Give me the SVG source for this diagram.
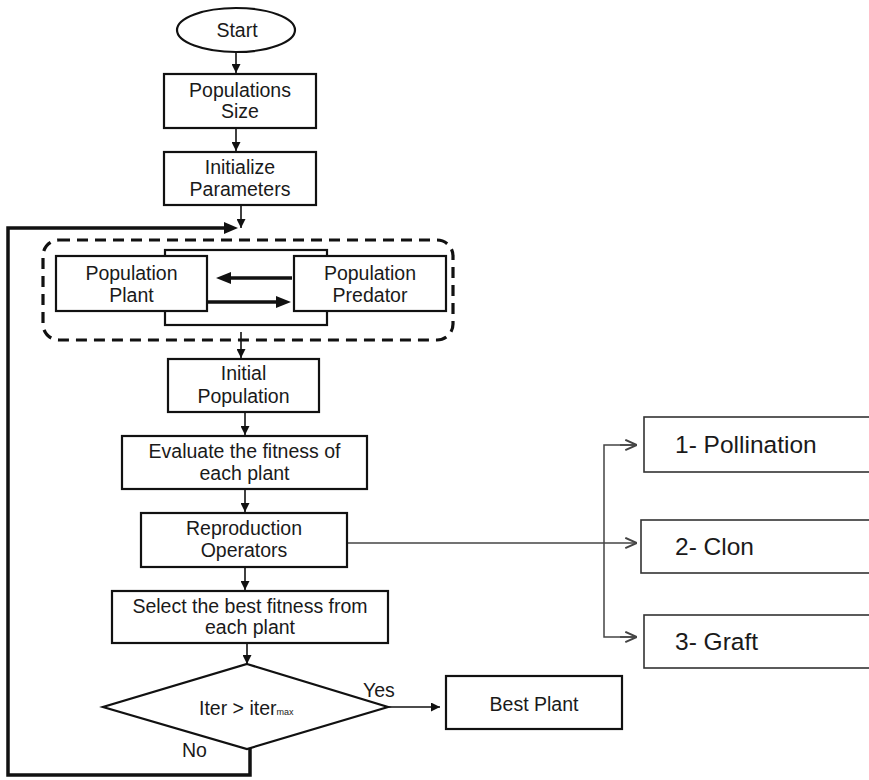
<svg xmlns="http://www.w3.org/2000/svg" width="869" height="780" viewBox="0 0 869 780">
  <defs>
    <style>
      .box { fill: #fff; stroke: #111; stroke-width: 2.2; }
      .thin { fill: #fff; stroke: #333; stroke-width: 1.6; }
      .lbl { font-family: "Liberation Sans", Arial, sans-serif; font-size: 19.5px; fill: #1a1a1a; text-anchor: middle; }
      .big { font-family: "Liberation Sans", Arial, sans-serif; font-size: 24.5px; fill: #1a1a1a; }
      .edge { fill: none; stroke: #111; stroke-width: 1.6; }
      .heavy { fill: none; stroke: #111; stroke-width: 3.5; }
      .side { fill: none; stroke: #444; stroke-width: 1.5; }
    </style>
    <marker id="tri" viewBox="0 0 10 10" refX="10" refY="5" markerWidth="9" markerHeight="9" markerUnits="userSpaceOnUse" orient="auto">
      <path d="M0,0 L10,5 L0,10 z" fill="#111"/>
    </marker>
    <marker id="open" viewBox="0 0 10 10" refX="10" refY="5" markerWidth="13" markerHeight="13" markerUnits="userSpaceOnUse" orient="auto">
      <path d="M1,1 L10,5 L1,9" fill="none" stroke="#444" stroke-width="1.5"/>
    </marker>
  </defs>

  <rect width="869" height="780" fill="#fff"/>

  <!-- connectors -->
  <g id="connectors">
    <line class="edge" x1="236" y1="52" x2="236" y2="73" marker-end="url(#tri)"/>
    <line class="edge" x1="236" y1="128" x2="236" y2="151" marker-end="url(#tri)"/>
    <line class="edge" x1="241" y1="197" x2="241" y2="228" marker-end="url(#tri)"/>
    <!-- loop back from decision "No" -->
    <polyline class="heavy" points="250,748 250,775 8,775 8,228 225,228"/>
    <path d="M224,222 L238,228 L224,234 z" fill="#111"/>
    <line class="edge" x1="241" y1="332" x2="241" y2="358" marker-end="url(#tri)"/>
    <line class="edge" x1="245" y1="412" x2="245" y2="435" marker-end="url(#tri)"/>
    <line class="edge" x1="245" y1="489" x2="245" y2="512" marker-end="url(#tri)"/>
    <line class="edge" x1="245" y1="561" x2="245" y2="590" marker-end="url(#tri)"/>
    <line class="edge" x1="247" y1="643" x2="247" y2="664" marker-end="url(#tri)"/>
    <line class="edge" x1="388" y1="707" x2="440" y2="707" marker-end="url(#tri)"/>
    <!-- reproduction operators fan-out -->
    <line class="side" x1="347" y1="543" x2="637" y2="543" marker-end="url(#open)"/>
    <polyline class="side" points="637,445 604,445 604,637 637,637"/>
    <line class="side" x1="620" y1="445" x2="637" y2="445" marker-end="url(#open)"/>
    <line class="side" x1="620" y1="637" x2="637" y2="637" marker-end="url(#open)"/>
  </g>

  <g id="start">
    <ellipse class="box" cx="236" cy="30" rx="59" ry="22"/>
    <text class="lbl" x="237" y="37">Start</text>
  </g>

  <g id="populations-size">
    <rect class="box" x="164" y="74" width="152" height="54"/>
    <text class="lbl" x="240" y="97">Populations</text>
    <text class="lbl" x="240" y="118">Size</text>
  </g>

  <g id="initialize-parameters">
    <rect class="box" x="164" y="152" width="152" height="53"/>
    <text class="lbl" x="240" y="174">Initialize</text>
    <text class="lbl" x="240" y="196">Parameters</text>
  </g>

  <g id="population-group">
    <rect x="43" y="240" width="410" height="100" rx="16" ry="16" fill="none" stroke="#111" stroke-width="3.2" stroke-dasharray="11,7"/>
    <rect class="box" x="165" y="250" width="162" height="75"/>
  </g>

  <g id="population-plant">
    <rect class="box" x="56" y="256" width="151" height="55"/>
    <text class="lbl" x="131.5" y="280">Population</text>
    <text class="lbl" x="131.5" y="302">Plant</text>
  </g>

  <g id="population-predator">
    <rect class="box" x="294" y="256" width="152" height="55"/>
    <text class="lbl" x="370" y="280">Population</text>
    <text class="lbl" x="370" y="302">Predator</text>
  </g>

  <g id="exchange">
    <line class="heavy" x1="292" y1="278" x2="230" y2="278"/>
    <path d="M231,272 L216,278 L231,284 z" fill="#111"/>
    <line class="heavy" x1="207" y1="302" x2="278" y2="302"/>
    <path d="M276,296 L291,302 L276,308 z" fill="#111"/>
  </g>

  <g id="initial-population">
    <rect class="box" x="168" y="359" width="151" height="53"/>
    <text class="lbl" x="243.5" y="380">Initial</text>
    <text class="lbl" x="243.5" y="403">Population</text>
  </g>

  <g id="evaluate-fitness">
    <rect class="box" x="122" y="436" width="245" height="53"/>
    <text class="lbl" x="244.5" y="458">Evaluate the fitness of</text>
    <text class="lbl" x="244.5" y="480">each plant</text>
  </g>

  <g id="reproduction-operators">
    <rect class="box" x="141" y="513" width="206" height="54"/>
    <text class="lbl" x="244" y="535">Reproduction</text>
    <text class="lbl" x="244" y="557">Operators</text>
  </g>

  <g id="select-best">
    <rect class="box" x="112" y="591" width="276" height="52"/>
    <text class="lbl" x="250" y="613">Select the best fitness from</text>
    <text class="lbl" x="250" y="634">each plant</text>
  </g>

  <g id="decision">
    <polygon class="box" points="247,664 388,707 247,749 103,707"/>
    <text class="lbl" x="199" y="715" style="text-anchor:start">Iter &gt; iter<tspan font-size="9">max</tspan></text>
    <text class="lbl" x="363" y="697" style="text-anchor:start">Yes</text>
    <text class="lbl" x="182" y="757" style="text-anchor:start">No</text>
  </g>

  <g id="best-plant">
    <rect class="box" x="446" y="676" width="176" height="53"/>
    <text class="lbl" x="534" y="711">Best Plant</text>
  </g>

  <g id="pollination">
    <rect class="thin" x="644" y="417" width="240" height="55"/>
    <text class="big" x="675" y="453">1- Pollination</text>
  </g>

  <g id="clon">
    <rect class="thin" x="641" y="520" width="243" height="53"/>
    <text class="big" x="675" y="555">2- Clon</text>
  </g>

  <g id="graft">
    <rect class="thin" x="644" y="615" width="240" height="53"/>
    <text class="big" x="675" y="650">3- Graft</text>
  </g>
</svg>
